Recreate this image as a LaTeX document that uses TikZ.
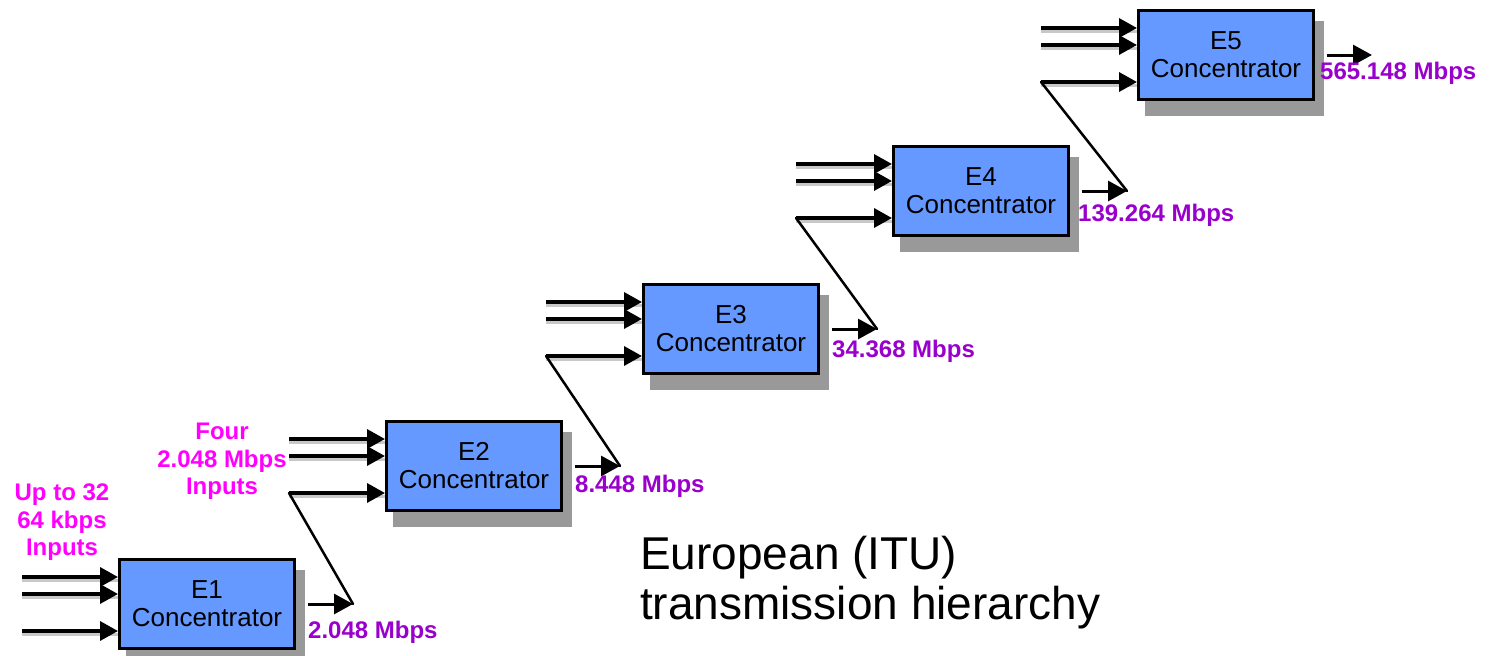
\documentclass[tikz,border=0pt]{standalone}
\usepackage{fontspec}
\setmainfont{Liberation Sans}
\usetikzlibrary{arrows.meta}

\definecolor{boxblue}{HTML}{6699FF}
\definecolor{shadowgray}{HTML}{999999}
\definecolor{halogray}{HTML}{C8C8C8}
\definecolor{inpink}{HTML}{FF00FF}
\definecolor{outpurple}{HTML}{9900CC}

% One multiplexing stage: shadow, box, three inputs and the output arrow.
% #1 = stage number, #2 = left edge, #3 = top edge
\newcommand\muxstage[3]{%
  \fill[shadowgray] (#2+8,#3+12) rectangle (#2+187,#3+107);
  \node[conc] (e#1) at (#2,#3) {E#1\\Concentrator};
  \coordinate (a#1) at (#2-96,#3+19);
  \coordinate (b#1) at (#2-96,#3+36);
  \coordinate (c#1) at (#2-96,#3+73);
  \draw[feed] (a#1) -- (a#1 -| e#1.west);
  \draw[feed] (b#1) -- (b#1 -| e#1.west);
  \draw[feed] (c#1) -- (c#1 -| e#1.west);
  \coordinate (s#1) at ([xshift=12pt]e#1.east);
  \coordinate (t#1) at ([xshift=57pt]e#1.east);
  \draw[emit] (s#1) -- (t#1);
}

\begin{document}
\begin{tikzpicture}[x=1pt,y=-1pt,
  conc/.style={draw=black, line width=3pt, fill=boxblue,
    minimum width=175pt, minimum height=89pt, inner sep=0pt,
    anchor=north west, align=center,
    font=\fontsize{26}{28}\selectfont},
  feed/.style={line width=3.5pt, -{Triangle[length=18pt,width=19pt]},
    preaction={draw=halogray, line width=3pt, -,
      transform canvas={yshift=-3.5pt}}},
  emit/.style={line width=3pt, draw=black,
    -{Triangle[length=19pt,width=20pt]}},
  diag/.style={line width=2.5pt, line cap=round},
  rate/.style={anchor=base west, inner sep=0pt, text=outpurple,
    font=\fontsize{24}{27}\selectfont\bfseries},
  inlabel/.style={anchor=north, inner sep=0pt, align=center, text=inpink,
    font=\fontsize{24}{27.3}\selectfont\bfseries},
  title/.style={anchor=base west, inner sep=0pt, align=left,
    font=\fontsize{46}{50}\selectfont}
]
\useasboundingbox (0,0) rectangle (1489,656);

\muxstage{1}{118}{558}
\muxstage{2}{385}{420}
\muxstage{3}{642}{283}
\muxstage{4}{892}{145}
\muxstage{5}{1137}{9}

% each stage output feeds the lowest input of the next stage
\draw[diag] (c2) -- (t1);
\draw[diag] (c3) -- (t2);
\draw[diag] (c4) -- (t3);
\draw[diag] (c5) -- (t4);

% output rates
\node[rate] (r1) at (308,638) {2.048 Mbps};
\node[rate] (r2) at (575,492) {8.448 Mbps};
\node[rate] (r3) at (832,357) {34.368 Mbps};
\node[rate] (r4) at (1078,221) {139.264 Mbps};
\node[rate] (r5) at (1320,79) {565.148 Mbps};

% input descriptions
\node[inlabel] (in1) at (62,484) {Up to 32\\64 kbps\\Inputs};
\node[inlabel] (in2) at (222,423) {Four\\2.048 Mbps\\Inputs};

% caption; the base anchor sits on the last line
\node[title] (cap) at (640,619) {European (ITU)\\transmission hierarchy};
\end{tikzpicture}
\end{document}
